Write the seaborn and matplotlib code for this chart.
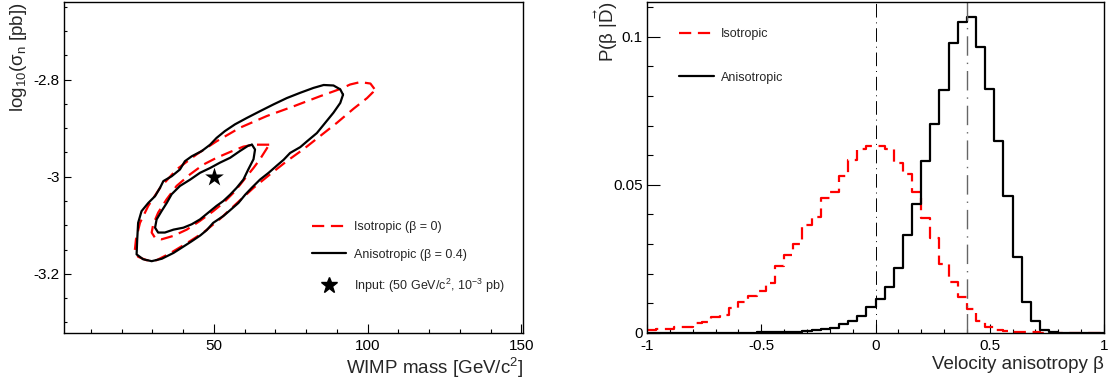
import numpy as np
import pandas as pd
import matplotlib
matplotlib.use("Agg")
import matplotlib.pyplot as plt
from matplotlib.lines import Line2D
from matplotlib.ticker import MultipleLocator, FuncFormatter
import seaborn as sns

# ---- left panel: credible contours in (WIMP mass, log10 sigma_n) ----
iso_outer_mass = [102.2, 100.9, 97.6, 94.3, 91.6, 84.6, 75.9, 67.2, 58.5, 50.9, 44.4, 37.9,
                  32.5, 28.7, 26.0, 24.7, 24.3, 25.4, 28.1, 31.4, 35.7, 41.2, 46.6, 52.0,
                  57.4, 62.9, 68.3, 73.7, 79.2, 84.6, 90.0, 95.4, 99.8, 101.7]
iso_outer_logsig = [-2.819, -2.808, -2.805, -2.810, -2.818, -2.834, -2.855, -2.875, -2.899,
                    -2.927, -2.954, -2.985, -3.023, -3.060, -3.095, -3.129, -3.153, -3.165,
                    -3.172, -3.172, -3.158, -3.137, -3.115, -3.087, -3.055, -3.023, -2.995,
                    -2.968, -2.943, -2.916, -2.889, -2.860, -2.838, -2.826]

iso_inner_mass = [68.0, 62.9, 59.6, 55.3, 50.9, 46.6, 42.3, 37.9, 34.6, 31.9, 30.3, 29.8,
                  30.9, 33.0, 36.8, 41.2, 45.5, 49.8, 53.1, 56.4, 58.6, 60.7, 62.9, 65.0]
iso_inner_logsig = [-2.934, -2.934, -2.938, -2.949, -2.961, -2.975, -2.995, -3.019, -3.047,
                    -3.074, -3.098, -3.115, -3.126, -3.129, -3.122, -3.109, -3.091, -3.071,
                    -3.054, -3.033, -3.016, -2.999, -2.982, -2.964]

aniso_outer_mass = [92.0, 91.1, 88.9, 85.7, 82.4, 78.1, 73.7, 69.4, 65.0, 60.7, 56.9, 53.6,
                    50.9, 48.8, 46.1, 42.8, 40.6, 39.0, 36.3, 33.6, 32.5, 30.9, 28.7, 26.5,
                    25.4, 25.1, 24.9, 27.0, 29.8, 33.1, 36.9, 40.1, 42.8, 45.6, 47.7, 49.8,
                    53.1, 55.3, 58.0, 60.2, 62.3, 65.0, 67.8, 70.5, 72.7, 74.8, 78.1, 80.3,
                    83.5, 86.2, 88.9, 91.1]
aniso_outer_logsig = [-2.831, -2.820, -2.812, -2.811, -2.817, -2.827, -2.838, -2.851, -2.865,
                      -2.879, -2.892, -2.906, -2.920, -2.934, -2.947, -2.958, -2.968, -2.985,
                      -2.999, -3.009, -3.023, -3.040, -3.054, -3.071, -3.095, -3.129, -3.160,
                      -3.170, -3.174, -3.169, -3.157, -3.144, -3.133, -3.121, -3.110, -3.095,
                      -3.081, -3.069, -3.054, -3.037, -3.023, -3.006, -2.992, -2.977, -2.965,
                      -2.951, -2.939, -2.927, -2.910, -2.889, -2.868, -2.848]

aniso_inner_mass = [62.4, 63.4, 62.9, 61.2, 59.6, 57.4, 55.3, 53.1, 50.9, 48.2, 45.5, 42.8,
                    40.1, 36.9, 34.1, 31.9, 30.9, 31.4, 33.0, 34.7, 36.3, 39.0, 42.3, 45.5,
                    48.8, 52.0, 55.3, 58.5, 61.2]
aniso_inner_logsig = [-2.934, -2.944, -2.964, -2.985, -3.006, -3.023, -3.037, -3.050, -3.060,
                      -3.074, -3.088, -3.098, -3.105, -3.109, -3.115, -3.115, -3.105, -3.088,
                      -3.071, -3.054, -3.036, -3.019, -3.006, -2.992, -2.982, -2.971, -2.961,
                      -2.947, -2.936]

input_mass = [50.0]
input_logsig = [-3.0]

# ---- right panel: posterior of the velocity anisotropy beta (50 bins on [-1, 1]) ----
beta_lo, beta_hi, beta_bin = -1.0, 1.0, 0.04
p_iso = [0.0010, 0.0012, 0.0014, 0.0019, 0.0021, 0.0033, 0.0036, 0.0054, 0.0062, 0.0084,
         0.0105, 0.0124, 0.0143, 0.0168, 0.0225, 0.0263, 0.0300, 0.0363, 0.0390, 0.0454,
         0.0477, 0.0530, 0.0585, 0.0621, 0.0630, 0.0631, 0.0620, 0.0573, 0.0538, 0.0475,
         0.0389, 0.0322, 0.0232, 0.0172, 0.0121, 0.0082, 0.0042, 0.0021, 0.0010, 0.0006,
         0.0003, 0.0002, 0.0002, 0.0001, 0.0001, 0.0001, 0.0001, 0.0001, 0.0001, 0.0001]
p_aniso = [0.0, 0.0, 0.0, 0.0, 0.0, 0.0, 0.0, 0.0, 0.0, 0.0,
           0.0001, 0.0001, 0.0002, 0.0002, 0.0003, 0.0004, 0.0005, 0.0007, 0.0009, 0.0012,
           0.0018, 0.0032, 0.0041, 0.0056, 0.0087, 0.0115, 0.0155, 0.0218, 0.0331, 0.0436,
           0.0581, 0.0704, 0.0819, 0.0978, 0.1051, 0.1065, 0.0964, 0.0825, 0.0648, 0.0461,
           0.0255, 0.0104, 0.0042, 0.0010, 0.0003, 0.0001, 0.0, 0.0, 0.0, 0.0]
beta_true = [0.0, 0.4]

sns.set_theme(style="ticks")
plt.rcParams.update({
    "font.family": ["Liberation Sans", "DejaVu Sans"],
    "mathtext.fontset": "custom",
    "mathtext.rm": "Liberation Sans",
    "mathtext.it": "Liberation Sans:italic",
    "mathtext.bf": "Liberation Sans:bold",
    "mathtext.default": "regular",
    "axes.linewidth": 1.0,
    "axes.edgecolor": "black",
    "xtick.color": "black",
    "ytick.color": "black",
})

DASH = (0, (5.5, 3.0))
W, H = 1112, 382
fig = plt.figure(figsize=(W / 100, H / 100), dpi=100)
ax1 = fig.add_axes([64 / W, 49 / H, 459 / W, 331 / H])
ax2 = fig.add_axes([647 / W, 49 / H, 457 / W, 331 / H])


def closed(a):
    a = np.asarray(a, dtype=float)
    return np.r_[a, a[:1]]


def style_axes(ax, xmaj, xmin, ymaj, ymin, ylen):
    ax.xaxis.set_major_locator(MultipleLocator(xmaj))
    ax.xaxis.set_minor_locator(MultipleLocator(xmin))
    ax.yaxis.set_major_locator(MultipleLocator(ymaj))
    ax.yaxis.set_minor_locator(MultipleLocator(ymin))
    fmt = FuncFormatter(lambda v, p: f"{round(v, 6):g}")
    ax.xaxis.set_major_formatter(fmt)
    ax.yaxis.set_major_formatter(fmt)
    ax.tick_params(axis="both", which="both", direction="in", top=False, right=False,
                   labelsize=11, width=0.8)
    ax.tick_params(axis="x", which="major", length=6.5, pad=4)
    ax.tick_params(axis="x", which="minor", length=3.2)
    ax.tick_params(axis="y", which="major", length=ylen, pad=3)
    ax.tick_params(axis="y", which="minor", length=ylen / 2)
    for s in ax.spines.values():
        s.set_visible(True)
        s.set_linewidth(1.0)


# left panel
for m, s, col, ls in [(iso_outer_mass, iso_outer_logsig, "red", DASH),
                      (iso_inner_mass, iso_inner_logsig, "red", DASH),
                      (aniso_outer_mass, aniso_outer_logsig, "black", "-"),
                      (aniso_inner_mass, aniso_inner_logsig, "black", "-")]:
    sns.lineplot(x=closed(m), y=closed(s), sort=False, estimator=None, color=col,
                 linestyle=ls, linewidth=1.6, ax=ax1)
sns.scatterplot(x=input_mass, y=input_logsig, marker="*", s=200, color="black",
                edgecolor="black", linewidth=0, ax=ax1, zorder=5)
ax1.set_xlim(1.3, 150.5)
ax1.set_ylim(-3.322, -2.64)
style_axes(ax1, 50, 10, 0.2, 0.05, 5)
ax1.set_xlabel("WIMP mass [GeV/c$^{2}$]", fontsize=13.5, loc="right")
ax1.set_ylabel("log$_{10}$(σ$_{n}$ [pb])", fontsize=13.5, loc="top")
ax1.xaxis.set_label_coords(1.0, -0.07)
ax1.yaxis.set_label_coords(-0.077, 1.0)
h1 = [Line2D([], [], color="red", linestyle=DASH, linewidth=1.6),
      Line2D([], [], color="black", linewidth=1.6),
      Line2D([], [], color="black", linestyle="none", marker="*", markersize=12)]
ax1.legend(h1, ["Isotropic (β = 0)", "Anisotropic (β = 0.4)",
                "Input: (50 GeV/c$^{2}$, 10$^{-3}$ pb)"],
           loc="upper left", bbox_to_anchor=(0.54, 0.338), frameon=False, fontsize=9,
           handlelength=2.7, handletextpad=0.65, labelspacing=1.25,
           borderpad=0, borderaxespad=0)

# right panel
n_bins = len(p_iso)
centers = beta_lo + beta_bin * (np.arange(n_bins) + 0.5)
hist_df = pd.DataFrame({"beta": centers, "iso": p_iso, "aniso": p_aniso})
sns.histplot(data=hist_df, x="beta", weights="iso", binwidth=beta_bin,
             binrange=(beta_lo, beta_hi), element="step", fill=False,
             color="red", linestyle=DASH, linewidth=1.6, ax=ax2)
sns.histplot(data=hist_df, x="beta", weights="aniso", binwidth=beta_bin,
             binrange=(beta_lo, beta_hi), element="step", fill=False,
             color="black", linewidth=1.6, ax=ax2)
ax2.axvline(beta_true[0], color="black", linewidth=0.7, linestyle=(0, (14, 5, 1, 5)))
ax2.axvline(beta_true[1], color="#666666", linewidth=1.0, linestyle=(0, (14, 5, 1, 5)))
ax2.set_xlim(beta_lo, beta_hi)
ax2.set_ylim(0, 0.1117)
style_axes(ax2, 0.5, 0.1, 0.05, 0.01, 9)
ax2.set_xlabel("Velocity anisotropy β", fontsize=13.5, loc="right")
ax2.set_ylabel(r"P(β |$\vec{D}$)", fontsize=13.5, loc="top")
ax2.xaxis.set_label_coords(1.0, -0.07)
ax2.yaxis.set_label_coords(-0.06, 1.0)
h2 = [Line2D([], [], color="red", linestyle=DASH, linewidth=1.6),
      Line2D([], [], color="black", linewidth=1.6)]
ax2.legend(h2, ["Isotropic", "Anisotropic"], loc="upper left",
           bbox_to_anchor=(0.07, 0.92), frameon=False, fontsize=9,
           handlelength=2.8, handletextpad=0.55, labelspacing=2.5,
           borderpad=0, borderaxespad=0)

fig.savefig("out.png", dpi=100)
